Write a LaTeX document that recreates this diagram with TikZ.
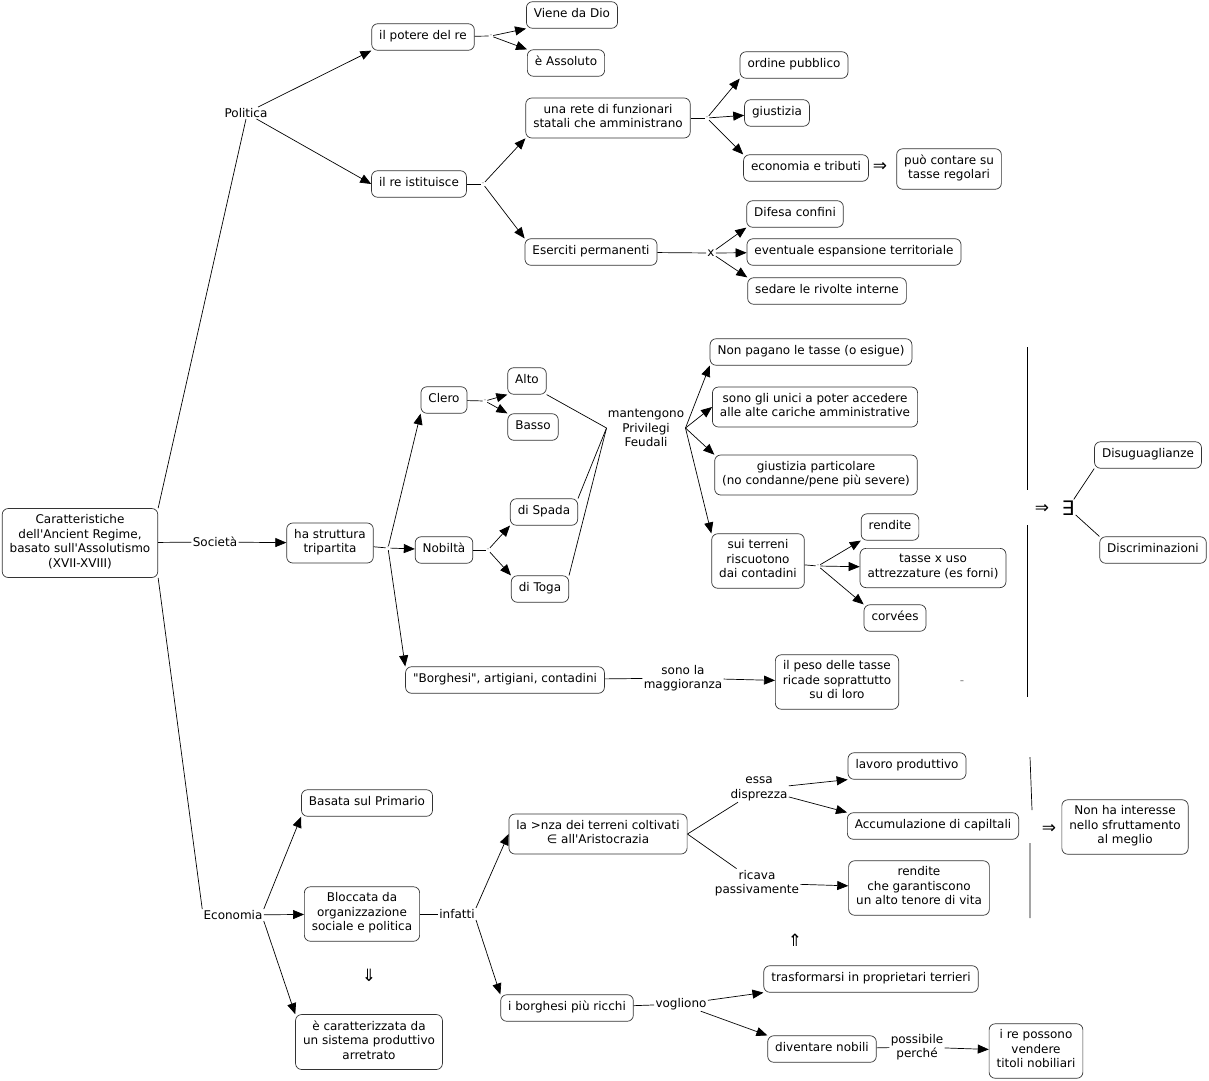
\documentclass[tikz,border=0pt]{standalone}
\usepackage{fontspec}
\setmainfont{DejaVu Sans}[Ligatures=TeXOff]
\usetikzlibrary{arrows.meta}

\begin{document}
\begin{tikzpicture}[x=1pt,y=-1pt,line width=.7pt,
  every node/.style={font=\fontsize{12}{14.5}\selectfont},
  box/.style={draw=black!80,rounded corners=6pt,align=center,inner xsep=7.5pt,inner ysep=6pt,
    execute at begin node=\strut,execute at end node=\strut},
  lbl/.style={align=center,inner sep=1pt},
  jn/.style={inner sep=.5pt,text=black!40,font=\fontsize{8}{8}\selectfont},
  sym/.style={inner sep=1pt,font=\fontsize{17}{17}\selectfont},
  arr/.style={-{Triangle[length=11pt,width=9pt]}}]
  \useasboundingbox (0,0) rectangle (1209,1080);

  % centro
  \node[box] (root) at (80,543) {Caratteristiche\\dell'Ancient Regime,\\basato sull'Assolutismo\\(XVII-XVIII)};
  \node[lbl] (pol) at (246,113) {Politica};
  \node[lbl] (soc) at (215,542) {Società};
  \node[lbl] (eco) at (233,915) {Economia};

  % politica
  \node[box] (pot) at (423,37) {il potere del re};
  \node[box] (via) at (572,15) {Viene da Dio};
  \node[box] (ass) at (566,63) {è Assoluto};
  \node[box] (ist) at (419,184) {il re istituisce};
  \node[box] (una) at (608,118) {una rete di funzionari\\statali che amministrano};
  \node[box] (ord) at (794,65) {ordine pubblico};
  \node[box] (giu) at (777,113) {giustizia};
  \node[box] (trib) at (806,168) {economia e tributi};
  \node[sym] (imp1) at (880,167) {⇒};
  \node[box] (puo) at (949,169) {può contare su\\tasse regolari};
  \node[box] (ese) at (591,252) {Eserciti permanenti};
  \node[lbl] (jx) at (711,253) {x};
  \node[box] (dif) at (795,214) {Difesa confini};
  \node[box] (esp) at (854,252) {eventuale espansione territoriale};
  \node[box] (sed) at (827,291) {sedare le rivolte interne};
  \node[jn] (j1) at (491,36) {-};
  \node[jn] (j2) at (483,184) {-};
  \node[jn] (j3) at (707,118) {-};

  % societa
  \node[box] (tri) at (330,543) {ha struttura\\tripartita};
  \node[box] (cle) at (444,400) {Clero};
  \node[box] (alt) at (527,381) {Alto};
  \node[box] (bss) at (533,427) {Basso};
  \node[box] (nob) at (444,550) {Nobiltà};
  \node[box] (spa) at (544,512) {di Spada};
  \node[box] (tog) at (540,589) {di Toga};
  \node[lbl] (man) at (646,428) {mantengono\\Privilegi\\Feudali};
  \node[box] (non) at (811,352) {Non pagano le tasse (o esigue)};
  \node[box] (uni) at (815,407) {sono gli unici a poter accedere\\alle alte cariche amministrative};
  \node[box] (gpa) at (816,475) {giustizia particolare\\(no condanne/pene più severe)};
  \node[box] (sui) at (758,561) {sui terreni\\riscuotono\\dai contadini};
  \node[box] (ren) at (890,527) {rendite};
  \node[box] (tas) at (933,568) {tasse x uso\\attrezzature (es forni)};
  \node[box] (cor) at (895,618) {corvées};
  \node[box] (bor) at (505,680) {"Borghesi", artigiani, contadini};
  \node[lbl] (mag) at (683,678) {sono la\\maggioranza};
  \node[box] (pes) at (837,682) {il peso delle tasse\\ricade soprattutto\\su di loro};
  \node[lbl,text=black!50] (dash) at (962,683) {-};
  \node[sym] (imp2) at (1042,509) {⇒};
  \node[font=\fontsize{20}{20}\selectfont,inner sep=1pt] (ex) at (1068,508) {∃};
  \node[box] (dsg) at (1148,455) {Disuguaglianze};
  \node[box] (dsc) at (1153,550) {Discriminazioni};
  \node[jn] (j4) at (388,548) {-};
  \node[jn] (j5) at (485,401) {-};
  \node[jn] (j6) at (488,550) {-};
  \node[jn] (j7) at (818,566) {-};

  % economia
  \node[box] (bas) at (367,803) {Basata sul Primario};
  \node[box] (blo) at (362,914) {Bloccata da\\organizzazione\\sociale e politica};
  \node[box] (car) at (369,1042) {è caratterizzata da\\un sistema produttivo\\arretrato};
  \node[sym] (dn) at (369,975) {⇓};
  \node[lbl] (inf) at (457,914) {infatti};
  \node[box] (lan) at (598,834) {la >nza dei terreni coltivati\\∈ all'Aristocrazia};
  \node[box] (ibo) at (567,1008) {i borghesi più ricchi};
  \node[lbl] (vog) at (681,1004) {vogliono};
  \node[box] (tra) at (871,979) {trasformarsi in proprietari terrieri};
  \node[box] (div) at (822,1049) {diventare nobili};
  \node[lbl] (pos) at (917,1047) {possibile\\perché};
  \node[box] (ire) at (1036,1051) {i re possono\\vendere\\titoli nobiliari};
  \node[lbl] (ess) at (759,789) {essa\\disprezza};
  \node[box] (lav) at (907,766) {lavoro produttivo};
  \node[box] (acc) at (933,826) {Accumulazione di capiltali};
  \node[lbl] (ric) at (757,883) {ricava\\passivamente};
  \node[box] (rdt) at (919,888) {rendite\\che garantiscono\\un alto tenore di vita};
  \node[sym] (up) at (795,940) {⇑};
  \node[sym] (imp3) at (1049,829) {⇒};
  \node[box] (nhi) at (1125,827) {Non ha interesse\\nello sfruttamento\\al meglio};

  % collegamenti
  \draw (root.north east) -- (pol.south);
  \draw (root) -- (soc);
  \draw (root.south east) -- (eco.north west);
  \draw[arr] (pol) -- (pot.south west);
  \draw[arr] (pol) -- (ist.west);
  \draw (pot) -- (j1);
  \foreach \t in {via.south west,ass.north west} \draw[arr] (j1) -- (\t);
  \draw (ist) -- (j2);
  \foreach \t in {una.south west,ese.north west} \draw[arr] (j2) -- (\t);
  \draw (una) -- (j3);
  \foreach \t in {ord.south west,giu,trib.north west} \draw[arr] (j3) -- (\t);
  \draw (ese) -- (jx);
  \foreach \t in {dif.south west,esp,sed.north west} \draw[arr] (jx) -- (\t);

  \draw[arr] (soc) -- (tri);
  \draw (tri) -- (j4);
  \foreach \t in {cle.south west,nob,bor.north west} \draw[arr] (j4) -- (\t);
  \draw (cle) -- (j5);
  \foreach \t in {alt.south west,bss.north west} \draw[arr] (j5) -- (\t);
  \draw (nob) -- (j6);
  \foreach \t in {spa.south west,tog.north west} \draw[arr] (j6) -- (\t);
  \foreach \s in {alt.south east,spa.north east,tog.north east} \draw (\s) -- (man.west);
  \foreach \t in {non.south west,uni.west,gpa.north west,sui.north west} \draw[arr] (man.east) -- (\t);
  \draw (sui) -- (j7);
  \foreach \t in {ren.south west,tas,cor.north west} \draw[arr] (j7) -- (\t);
  \draw (bor) -- (mag);
  \draw[arr] (mag) -- (pes);
  \draw (1027,347) -- (1027,490) (1027,525) -- (1027,697);
  \draw (ex) -- (dsg.south west);
  \draw (ex) -- (dsc.north west);

  \draw[arr] (eco.north east) -- (bas.south west);
  \draw[arr] (eco) -- (blo);
  \draw[arr] (eco.south east) -- (car.north west);
  \draw (blo) -- (inf);
  \draw[arr] (inf.north east) -- (lan.west);
  \draw[arr] (inf.south east) -- (ibo.north west);
  \draw (ibo) -- (vog);
  \draw[arr] (vog) -- (tra.south west);
  \draw[arr] (vog) -- (div.north west);
  \draw (div) -- (pos);
  \draw[arr] (pos) -- (ire);
  \draw (lan.east) -- (ess);
  \draw[arr] (ess) -- (lav.south west);
  \draw[arr] (ess) -- (acc.north west);
  \draw (lan.east) -- (ric);
  \draw[arr] (ric) -- (rdt);
  \draw (1030,757) -- (1032,810) (1030,843) -- (1030,918);
\end{tikzpicture}
\end{document}
